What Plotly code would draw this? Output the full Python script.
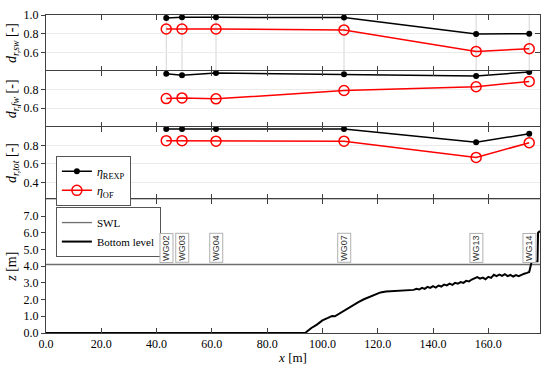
import plotly.graph_objects as go

# ---- data ----
wg_names = ["WG02", "WG03", "WG04", "WG07", "WG13", "WG14"]
wg_x = [43.5, 49.2, 61.5, 107.8, 155.6, 174.8]

sw_rexp = [0.968, 0.975, 0.975, 0.972, 0.796, 0.80]
sw_of = [0.85, 0.85, 0.85, 0.84, 0.61, 0.638]

fw_rexp = [0.97, 0.953, 0.978, 0.965, 0.946, 0.99]
fw_of = [0.703, 0.71, 0.70, 0.79, 0.83, 0.888]

tot_rexp = [0.975, 0.975, 0.975, 0.975, 0.832, 0.925]
tot_of = [0.85, 0.85, 0.845, 0.845, 0.67, 0.828]

swl_level = 4.1
bed_x = [0.0, 93.8, 94.5, 96, 98, 100, 102, 103.5, 104.5, 105.5, 107, 109, 111, 113, 115,
         117, 119, 121, 123, 125, 127, 129, 131, 133, 134, 135, 136, 137, 138, 139, 140,
         141, 142, 143, 144, 145, 146, 147, 148, 149, 150, 151, 152, 153, 154, 155, 156,
         157, 158, 159, 160, 161, 162, 163, 164, 165, 166, 167, 168, 169, 170, 171, 172,
         173, 174, 174.8, 175.6, 176.2, 177.8, 178.0, 178.7]
bed_z = [0.0, 0.0, 0.1, 0.3, 0.5, 0.75, 0.9, 1.02, 1.0, 1.1, 1.3, 1.5, 1.68, 1.85, 2.02,
         2.17, 2.32, 2.43, 2.48, 2.5, 2.5, 2.52, 2.55, 2.58, 2.64, 2.6, 2.7, 2.64, 2.76, 2.7, 2.8,
         2.72, 2.84, 2.78, 2.9, 2.85, 2.95, 2.88, 3.0, 2.95, 3.05, 3.0, 3.12, 3.08, 3.2, 3.28, 3.35,
         3.25, 3.32, 3.22, 3.36, 3.3, 3.48, 3.4, 3.5, 3.42, 3.52, 3.4, 3.48, 3.38, 3.46, 3.4, 3.5,
         3.55, 3.6, 3.65, 4.2, 4.3, 4.3, 6.0, 6.1]

x_range = [0, 178.7]
x_ticks = [0, 20, 40, 60, 80, 100, 120, 140, 160]

FONT = "Liberation Serif"
AX = "#404040"
GRID = "#ebebeb"
WGL = "#d4d4d4"

fig = go.Figure()

panels = [
    (sw_rexp, sw_of, "x", "y"),
    (fw_rexp, fw_of, "x2", "y2"),
    (tot_rexp, tot_of, "x3", "y3"),
]
for i, (rexp, of, xa, ya) in enumerate(panels):
    leg = (i == 2)
    fig.add_trace(go.Scatter(x=wg_x, y=rexp, xaxis=xa, yaxis=ya, mode="lines+markers",
                             line=dict(color="black", width=1.5),
                             marker=dict(symbol="circle", size=6, color="black"),
                             name="<i>η</i><sub>REXP</sub>", showlegend=leg, legend="legend"))
    fig.add_trace(go.Scatter(x=wg_x, y=of, xaxis=xa, yaxis=ya, mode="lines+markers",
                             line=dict(color="red", width=1.5),
                             marker=dict(symbol="circle-open", size=10, color="red",
                                         line=dict(width=1.5, color="red")),
                             name="<i>η</i><sub>OF</sub>", showlegend=leg, legend="legend"))

fig.add_trace(go.Scatter(x=x_range, y=[swl_level, swl_level], xaxis="x4", yaxis="y4",
                         mode="lines", line=dict(color="#6e6e6e", width=1.3),
                         name="SWL", legend="legend2"))
fig.add_trace(go.Scatter(x=bed_x, y=bed_z, xaxis="x4", yaxis="y4", mode="lines",
                         line=dict(color="black", width=2),
                         name="Bottom level", legend="legend2"))

# invisible traces for right-side (inside) tick axes
for ya in ["y5", "y6", "y7", "y8"]:
    fig.add_trace(go.Scatter(x=[None], y=[None], xaxis="x", yaxis=ya, showlegend=False,
                             hoverinfo="skip"))

doms = [[0.8239, 1.0], [0.6487, 0.8239], [0.4204, 0.6487], [0.0, 0.4204]]
yranges = [[0.4, 1.0], [0.4, 1.0], [0.22, 1.0], [0, 8]]
yticks = [[0.6, 0.8, 1.0], [0.6, 0.8], [0.4, 0.6, 0.8], [0, 1, 2, 3, 4, 5, 6, 7]]
ytitles = ["<i>d</i><sub><i>r,sw</i></sub> [-]", "<i>d</i><sub><i>r,fw</i></sub> [-]",
           "<i>d</i><sub><i>r,tot</i></sub> [-]", "<i>z</i> [m]"]

layout = dict(
    width=550, height=370,
    margin=dict(l=46, r=10, t=15, b=37, autoexpand=False),
    paper_bgcolor="white", plot_bgcolor="white",
    font=dict(family=FONT, size=12, color="black"),
    showlegend=True,
    legend=dict(x=0.02, y=0.557, xanchor="left", yanchor="top",
                bgcolor="white", bordercolor="#555555", borderwidth=1,
                font=dict(family=FONT, size=12), tracegroupgap=0, itemwidth=30),
    legend2=dict(x=0.02, y=0.396, xanchor="left", yanchor="top",
                 bgcolor="white", bordercolor="#555555", borderwidth=1,
                 font=dict(family=FONT, size=11), tracegroupgap=0, itemwidth=30),
)

for i in range(4):
    sfx = "" if i == 0 else str(i + 1)
    ya = "y" + sfx
    xa = "x" + sfx
    layout["xaxis" + sfx] = dict(
        domain=[0, 1], anchor=ya, range=x_range, tickvals=x_ticks,
        tickformat=".1f", ticks="inside", ticklen=5, tickcolor=AX,
        showline=True, linecolor=AX, linewidth=1, mirror="ticks",
        showgrid=False, zeroline=False, showticklabels=(i == 3),
        matches=None if i == 3 else "x4", automargin=False,
        tickfont=dict(family=FONT, size=12),
        title=dict(text="<i>x</i> [m]", standoff=2, font=dict(family=FONT, size=13)) if i == 3 else None,
    )
    layout["yaxis" + sfx] = dict(
        domain=doms[i], anchor=xa, range=yranges[i], tickvals=yticks[i],
        tickformat=".1f", ticks="outside", ticklen=4, tickcolor=AX,
        showline=True, linecolor=AX, linewidth=1, mirror=True,
        showgrid=(i < 3), gridcolor=GRID, gridwidth=1, zeroline=False,
        automargin=False,
        tickfont=dict(family=FONT, size=12),
        title=dict(text=ytitles[i], standoff=3, font=dict(family=FONT, size=14)),
    )
    layout["yaxis" + str(i + 5)] = dict(
        overlaying=ya, side="right", anchor=xa, range=yranges[i], tickvals=yticks[i],
        ticks="inside", ticklen=5, tickcolor=AX, showticklabels=False,
        showline=False, showgrid=False, zeroline=False, automargin=False,
    )

fig.update_layout(**layout)

for name, xv in zip(wg_names, wg_x):
    fig.add_shape(type="line", xref="x4", yref="paper", x0=xv, x1=xv, y0=0, y1=1,
                  line=dict(color=WGL, width=1), layer="below")
    fig.add_annotation(x=xv, y=5.1, xref="x4", yref="y4", text=name, textangle=-90,
                       showarrow=False, font=dict(family="Liberation Sans", size=9, color="#333333"),
                       bgcolor="white", bordercolor="#b0b0b0", borderwidth=1, borderpad=1)

fig.write_html("out.html", config={"displayModeBar": False},
               post_script="document.body.style.margin='0px';")
